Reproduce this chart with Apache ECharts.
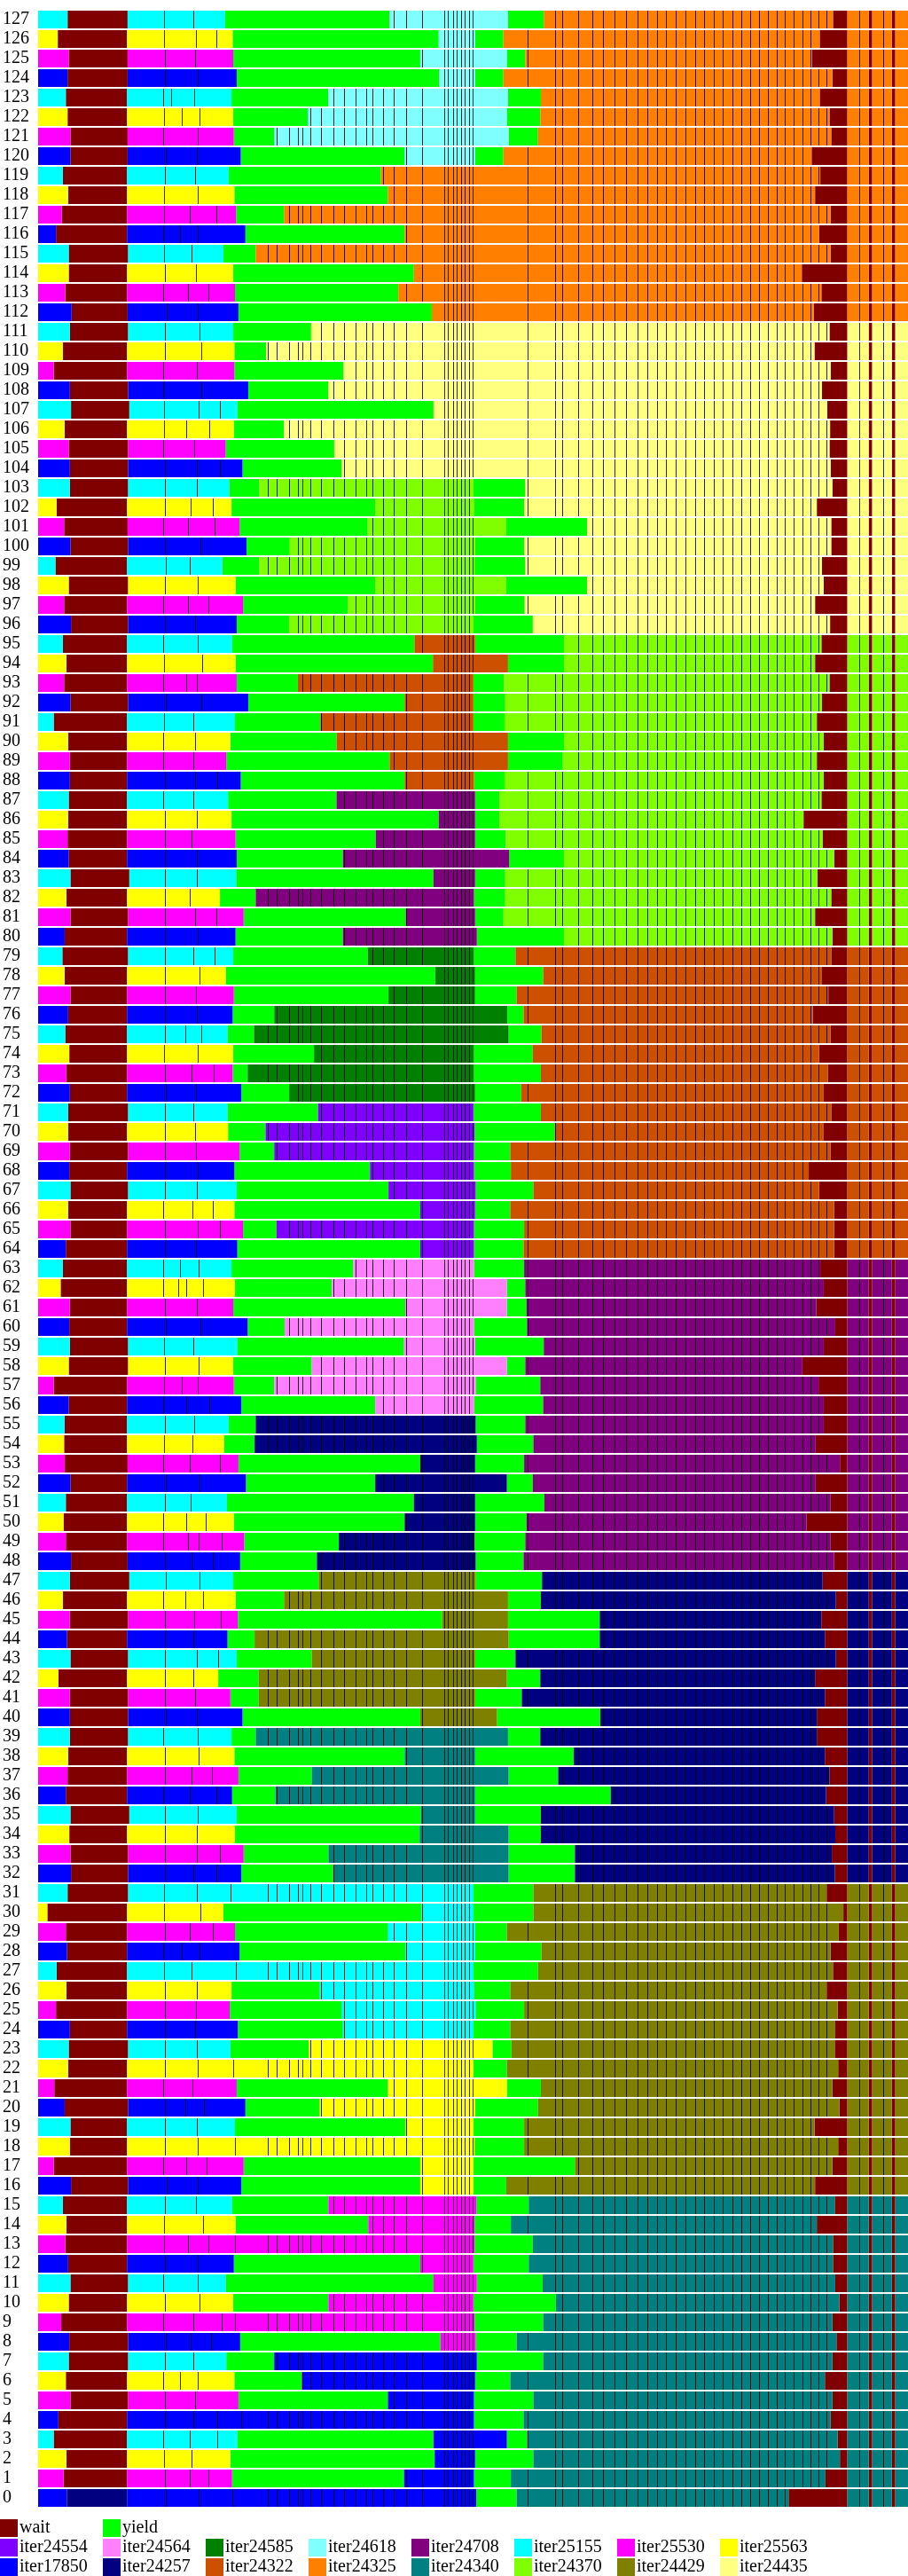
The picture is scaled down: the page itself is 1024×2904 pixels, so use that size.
<!DOCTYPE html>
<html><head><meta charset="utf-8">
<script src="https://cdn.jsdelivr.net/npm/echarts@6/dist/echarts.min.js"></script>
<style>html,body{margin:0;padding:0;background:#fff}#c{width:1024px;height:2904px}</style>
</head><body><div id="c"></div>
<script>
// ---- DATA (time in arbitrary units) ----
const X_START = 61, X_END = 1568, FINAL_WAIT_END = 1463;
const tailWaits = [[1500, 1506], [1540, 1546]];
const legendRow1 = ['wait', 'yield'];
const legendRow2 = ['iter24554','iter24564','iter24585','iter24618','iter24708','iter25155','iter25530','iter25563'];
const legendRow3 = ['iter17850','iter24257','iter24322','iter24325','iter24340','iter24370','iter24429','iter24435'];
const colors = {
  wait:'#800000', yield:'#00ff00',
  iter24554:'#8000ff', iter24564:'#ff80ff', iter24585:'#008000', iter24618:'#80ffff',
  iter24708:'#800080', iter25155:'#00ffff', iter25530:'#ff00ff', iter25563:'#ffff00',
  iter17850:'#0000ff', iter24257:'#000080', iter24322:'#cc5000', iter24325:'#ff8000',
  iter24340:'#008080', iter24370:'#80ff00', iter24429:'#808000', iter24435:'#ffff80'
};
const code = {W:'wait', B:'iter17850', M:'iter25530', Y:'iter25563', C:'iter25155', L:'iter24618',
  O:'iter24325', P:'iter24435', G:'iter24370', R:'iter24322', U:'iter24708', D:'iter24585',
  V:'iter24554', K:'iter24564', N:'iter24257', A:'iter24429', T:'iter24340'};
// per row (index = row number 0..127)
const c0Keys =   'BMYCBMYCBMYCBMYC'+'BMYCBMYCBMYCBMYC'+'BMYCBMYCBMYCBMYC'+'BMYCBMYCBMYCBMYC'+'BMYCBMYCBMYCBMYC'+'BMYCBMYCBMYCBMYC'+'BMYCBMYCBMYCBMYC'+'BMYCBMYCBMYCBMYC';
const gapKeys =  'NWWWWWWWWWWWWWWW'+'WWWWWWWWWWWWWWWW'+'WWWWWWWWWWWWWWWW'+'WWWWWWWWWWWWWWWW'+'WWWWWWWWWWWWWWWW'+'WWWWWWWWWWWWWWWW'+'WWWWWWWWWWWWWWWW'+'WWWWWWWWWWWWWWWW';
const midKeys =  'BBBBBBBBMMMMMMMM'+'YYYYYYYYCCCCCCCC'+'TTTTTTTTAAAAAAAA'+'NNNNNNNNKKKKKKKK'+'VVVVVVVVDDDDDDDD'+'UUUUUUUURRRRRRRR'+'GGGGGGGG--------'+'--------LLLLLLLL';
const rightKeys ='TTTTTTTTTTTTTTTT'+'AAAAAAAAAAAAAAAA'+'NNNNNNNNNNNNNNNN'+'UUUUUUUUUUUUUUUU'+'RRRRRRRRRRRRRRRR'+'GGGGGGGGGGGGGGGG'+'PPPPPPPPPPPPPPPP'+'OOOOOOOOOOOOOOOO';
const startEnd = [111,105,110,88,96,117,109,114,115,101,114,117,113,108,110,104,
  118,88,116,117,107,89,113,114,116,92,110,93,111,109,77,112,
  118,117,115,117,109,112,113,116,116,116,96,117,111,116,104,116,
  118,109,105,109,117,107,106,107,114,88,114,116,115,116,100,104,
  109,117,113,117,115,116,113,113,116,110,115,108,113,117,107,103,
  107,117,110,117,114,112,113,114,116,116,113,88,117,106,110,104,
  118,106,114,91,117,106,93,116,116,114,107,118,116,88,104,116,
  119,108,114,114,92,102,113,104,117,117,112,109,112,114,95,112];
const waitEnd = [215,215,215,215,215,217,215,217,217,215,215,217,215,215,215,215,
  217,215,215,215,217,215,215,217,215,215,215,215,215,215,215,217,
  217,217,215,219,215,215,215,217,217,217,215,217,215,217,215,219,
  216,215,215,215,215,216,215,215,215,215,217,217,215,215,215,215,
  215,215,215,217,215,217,215,217,215,215,215,215,215,215,215,217,
  215,217,215,219,215,215,215,215,215,215,215,215,217,215,215,215,
  217,215,217,215,217,216,215,217,217,217,215,219,217,215,215,217,
  216,215,215,217,215,215,215,215,216,216,215,215,216,216,215,216];
const c0Splits = [[283,340],[281,324,357],[280,328],[279,325,372],[282,330,372],[281,333],[279,307,339],[281,330],
  [283,326,362],[279,330,380],[282,341],[279,339],[282,338],[280,322,357],[280,347],[282,335],
  [284,339],[279,318,354],[281,338],[281,336],[281,317,349],[279,329],[281,339],[281,336],
  [281,333],[281,335],[281,336],[280,327],[279,310,342],[281,325,365],[280,343],[280,337],
  [281,331,370],[281,337,377],[282,337],[281,339],[279,325,371],[281,328,363],[282,340],[279,339],
  [283,337],[281,334],[281,330],[281,337,373],[281,330],[281,332,378],[279,317,348],[283,342],
  [281,329,365],[279,321,340,380],[279,319,352],[281,326],[283,341],[279,325,376],[280,329],[281,332],
  [279,318,359],[280,310,339],[282,340],[280,330],[283,343],[282,336],[279,305,318,347],[279,307,340],
  [281,335],[282,339,376],[279,329,365],[281,337],[281,339],[281,335],[281,333],[281,331],
  [283,335],[281,327,366],[280,339],[281,317,345],[281,337],[282,335],[281,341],[281,331,367],
  [281,339],[281,334,370],[281,325],[281,337],[281,337],[281,328],[281,337],[279,331],
  [281,334,372],[279,331],[279,333],[280,331],[283,345],[279,319,337],[280,346],[279,339],
  [281,334],[279,322,357],[281,339],[283,324],[281,343],[279,322,368],[281,326,365],[282,337],
  [281,337,376],[279,332],[280,319,358],[280,340,376],[279,344],[278,336],[281,344],[281,342],
  [284,339],[278,321,357],[282,335],[280,328],[279,308,339],[280,325,370],[280,338],[282,334],
  [283,336],[278,338],[280,310,341],[278,292,332],[282,339],[281,334],[280,335,370],[280,330]];
const c0End = [398,397,394,406,413,408,401,387,411,403,399,386,400,403,403,397,
  413,417,403,402,420,405,400,394,407,393,396,405,410,402,382,395,
  413,417,402,405,397,408,401,396,415,394,373,405,389,407,403,399,
  411,418,400,388,421,408,383,391,413,400,399,406,424,399,402,396,
  406,416,401,405,401,410,390,389,413,398,399,389,398,400,386,399,
  403,417,376,404,405,403,396,390,412,387,394,402,425,405,403,397,
  405,416,403,380,422,410,396,392,415,386,400,406,425,401,401,399,
  408,402,399,382,420,404,401,391,412,400,399,396,405,399,398,385];
const yield1End = [398,695,748,746,413,667,518,470,758,403,564,746,723,403,633,564,
  723,723,403,697,549,667,400,530,589,587,549,405,697,667,725,395,
  572,564,722,724,472,535,696,438,723,443,443,535,436,761,487,547,
  544,582,696,712,645,723,436,438,645,470,535,695,488,697,570,607,
  723,474,723,668,636,470,455,546,496,424,539,435,470,668,749,632,
  589,698,438,746,589,646,755,578,696,670,578,550,696,511,745,713,
  496,598,645,444,497,632,645,444,587,574,487,746,564,590,456,534,
  743,685,712,438,696,487,667,655,696,470,528,564,756,723,755,670];
const midEnd = [820,816,818,873,816,816,818,821,819,817,815,821,815,817,817,820,
  815,815,817,815,818,873,815,848,815,819,816,815,818,818,815,815,
  876,876,876,818,818,876,818,875,856,818,873,818,876,875,875,819,
  819,817,818,818,873,818,821,819,816,819,873,818,816,873,873,816,
  816,816,818,819,816,816,817,815,818,816,816,876,874,818,818,816,
  821,818,816,818,877,818,818,818,816,875,875,815,815,815,875,818,
  815,818,872,817,818,872,816,815,587,574,487,746,564,590,456,534,
  743,685,712,438,696,487,667,655,818,876,873,875,818,873,818,875];
const yield2End = [890,880,919,908,902,919,879,936,890,936,958,935,911,918,880,911,
  872,991,903,903,927,932,873,881,879,903,879,927,933,873,919,919,
  991,991,932,932,1053,962,989,931,1035,899,931,888,1034,1034,932,934,
  902,905,907,938,918,903,919,905,936,931,905,937,908,907,905,903,
  902,903,879,919,880,879,956,932,898,932,918,933,902,890,936,888,
  972,867,870,870,972,871,860,860,869,970,972,869,870,868,972,972,
  918,904,1012,905,903,1012,903,905,587,574,487,746,564,590,456,534,
  743,685,712,438,696,487,667,655,867,927,931,932,867,905,867,937];
const waitStart = [1361,1425,1450,1446,1434,1437,1424,1437,1444,1437,1449,1442,1438,1438,1410,1441,
  1407,1437,1447,1406,1449,1437,1447,1441,1442,1446,1427,1438,1434,1448,1456,1427,
  1441,1436,1442,1440,1426,1432,1424,1410,1410,1424,1407,1443,1424,1418,1443,1420,
  1440,1434,1392,1434,1408,1450,1408,1422,1422,1413,1385,1422,1442,1409,1422,1416,
  1440,1440,1440,1414,1396,1434,1422,1435,1422,1429,1414,1434,1403,1430,1418,1435,
  1437,1407,1435,1411,1440,1420,1387,1418,1422,1410,1422,1410,1419,1432,1407,1418,
  1433,1407,1422,1419,1435,1435,1410,1437,1434,1432,1433,1428,1419,1434,1406,1432,
  1405,1418,1384,1434,1414,1434,1407,1416,1401,1435,1432,1415,1437,1402,1415,1438];
// iteration boundaries (thin dark lines) shared by the task regions
const stripeTimes = [460,475,497,512,520,533,552,574,591,611,630,641,660,678,700,727,765,772,780,787,795,801,808,815,
  910,958,969,998,1022,1041,1061,1081,1100,1117,1134,1150,1167,1183,1200,1216,1232,1248,1264,1280,1296,1311,1326,
  1341,1356,1371,1386,1400,1414,1428,1485,1526];
const rowLabels = Array.from({length:128}, (_, i) => String(i));

// ---- build segments ----
const seriesData = {};
Object.keys(colors).forEach(k => seriesData[k] = []);
for (let r = 0; r < 128; r++) {
  const segs = [];
  const add = (k, s, e) => { if (e > s) segs.push([k, s, e]); };
  const c0 = code[c0Keys[r]];
  add(c0, X_START, startEnd[r]);
  add(code[gapKeys[r]], startEnd[r], waitEnd[r]);
  let s = waitEnd[r];
  for (const p of c0Splits[r]) { add(c0, s, p); s = p; }
  add(c0, s, c0End[r]);
  add('yield', c0End[r], yield1End[r]);
  if (midKeys[r] !== '-') add(code[midKeys[r]], yield1End[r], midEnd[r]);
  add('yield', midEnd[r], yield2End[r]);
  const rk = code[rightKeys[r]];
  add(rk, yield2End[r], waitStart[r]);
  add('wait', waitStart[r], FINAL_WAIT_END);
  let t = FINAL_WAIT_END;
  for (const [a, b] of tailWaits) { add(rk, t, a); add('wait', a, b); t = b; }
  add(rk, t, X_END);
  segs.forEach((sg, i) => {
    const sep = (i > 0 && segs[i-1][0] === sg[0]) ? 1 : 0;
    const striped = (sg[0] !== 'wait' && sg[0] !== 'yield') ? 1 : 0;
    seriesData[sg[0]].push([r, sg[1], sg[2], sep, striped]);
  });
}

function renderItem(params, api) {
  const row = api.value(0), s = api.value(1), e = api.value(2);
  const sep = api.value(3), striped = api.value(4);
  const p0 = api.coord([s, row]), p1 = api.coord([e, row]);
  const band = api.size([0, 1])[1];
  const bh = band - 2;
  const y = p0[1] - bh / 2;
  const children = [{type:'rect', shape:{x:p0[0], y:y, width:p1[0]-p0[0], height:bh},
    style:{fill:api.visual('color')}}];
  const line = (x) => ({type:'line', shape:{x1:x, y1:y, x2:x, y2:y+bh},
    style:{stroke:'rgba(0,0,0,0.85)', lineWidth:1}});
  if (sep) children.push(line(Math.floor(p0[0]) + 0.5));
  if (striped) {
    for (const st of stripeTimes) {
      if (st > s + 1 && st < e - 1) children.push(line(Math.floor(api.coord([st, row])[0]) + 0.5));
    }
  }
  return {type:'group', children};
}

const series = Object.keys(colors).map(k => ({
  name: k, type:'custom', renderItem, itemStyle:{color:colors[k]},
  encode:{x:[1,2], y:0}, data: seriesData[k], animation:false, silent:true
}));

const legends = [];
const COL = 116;
[[legendRow1, 2840], [legendRow2, 2862], [legendRow3, 2884]].forEach(([names, top]) => {
  names.forEach((n, i) => legends.push({
    data:[n], left: i * COL, top: top, padding:0, itemGap:0, itemWidth:20, itemHeight:20,
    icon:'rect', selectedMode:false,
    textStyle:{fontFamily:'Liberation Serif', fontSize:20, color:'#000', padding:[0,0,0,-3]}
  }));
});

const chart = echarts.init(document.getElementById('c'), null, {renderer:'canvas'});
chart.setOption({
  animation:false,
  backgroundColor:'#fff',
  grid:{left:40, right:0, top:11, height:2816, containLabel:false},
  xAxis:{type:'value', min:X_START, max:X_END, show:false},
  yAxis:{type:'category', data:rowLabels, axisLine:{show:false}, axisTick:{show:false},
    splitLine:{show:false},
    axisLabel:{interval:0, align:'left', margin:40, fontFamily:'Liberation Serif', fontSize:20, color:'#000'}},
  legend: legends,
  series
});
</script></body></html>
